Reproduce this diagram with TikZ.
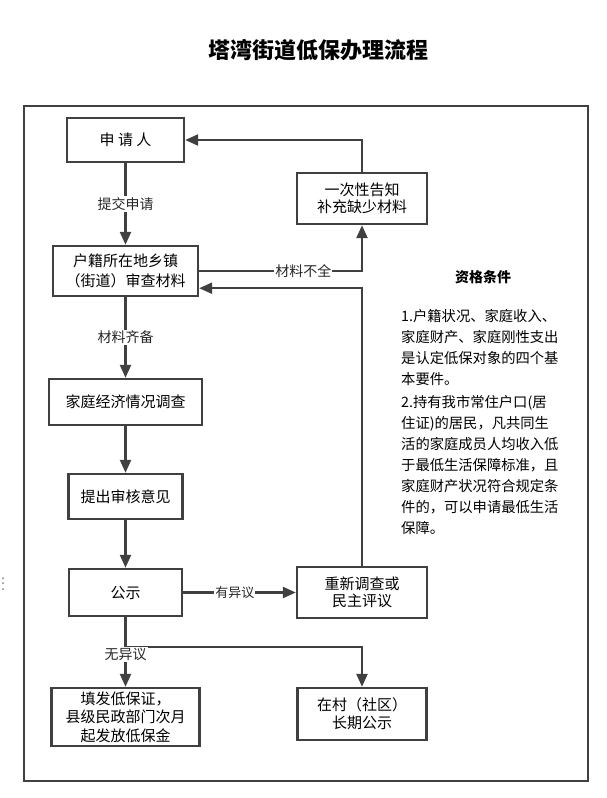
\documentclass[tikz,border=0pt]{standalone}
\usepackage{fontspec}
\setmainfont{Noto Sans CJK SC}
\usetikzlibrary{arrows.meta,positioning,calc}
\definecolor{linegray}{gray}{0.25}

\begin{document}
\begin{tikzpicture}[x=1pt,y=-1pt,
	flowbox/.style={draw=linegray,line width=2.4pt,align=center,inner sep=0pt,font=\fontsize{15}{17}\selectfont},
	flowarrow/.style={draw=linegray,line width=2.4pt,-{Triangle[length=13pt,width=11pt]}},
	flowlabel/.style={fill=white,inner sep=1pt,text=black!85,font=\fontsize{14}{16}\selectfont}]
	\useasboundingbox (0,0) rectangle (607,798);
	\draw[linegray,line width=2.4pt] (24,106) rectangle (588,781);
	\foreach \dy in {578,583,589}{
	\fill[gray] (3,\dy) circle (1pt);
	}

	\node[font=\fontsize{22}{26}\selectfont\bfseries] (title) at (318,50) {塔湾街道低保办理流程};

	\node[flowbox,minimum width=117pt,minimum height=44pt] (shenqing) at (125.5,140) {申 请 人};
	\node[flowbox,minimum width=130pt,minimum height=51pt] (gaozhi) at (362,198.5) {一次性告知\\补充缺少材料};
	\node[flowbox,minimum width=145pt,minimum height=50pt,font=\fontsize{15}{20}\selectfont] (huji) at (125.5,271) {户籍所在地乡镇\\（街道）审查材料};
	\node[flowbox,minimum width=153pt,minimum height=46pt] (diaocha) at (125.5,402) {家庭经济情况调查};
	\node[flowbox,minimum width=114pt,minimum height=45pt] (yijian) at (125.5,496.5) {提出审核意见};
	\node[flowbox,minimum width=113pt,minimum height=47pt] (gongshi) at (125.5,592.5) {公示};
	\node[flowbox,minimum width=130pt,minimum height=51pt] (chongxin) at (362,592.5) {重新调查或\\民主评议};
	\node[flowbox,minimum width=148pt,minimum height=58pt,font=\fontsize{15}{18.5}\selectfont] (tianfa) at (125.5,717) {填发低保证，\\县级民政部门次月\\起发放低保金};
	\node[flowbox,minimum width=129pt,minimum height=52pt,font=\fontsize{15}{18}\selectfont] (zaicun) at (362,714) {在村（社区）\\长期公示};

	\draw[flowarrow] (shenqing) -- node[flowlabel] (tijiao) {提交申请} (huji);
	\draw[flowarrow] (huji.east) -| node[flowlabel,pos=0.32] (buquan) {材料不全} (gaozhi.south);
	\draw[flowarrow] (gaozhi.north) |- (shenqing.east);
	\draw[flowarrow] (huji) -- node[flowlabel] (qibei) {材料齐备} (diaocha);
	\draw[flowarrow] (diaocha) -- (yijian);
	\draw[flowarrow] (yijian) -- (gongshi);
	\draw[flowarrow] (gongshi) -- node[flowlabel,pos=0.46,font=\fontsize{13}{15}\selectfont] (youyiyi) {有异议} (chongxin);
	\draw[flowarrow] (chongxin.north) |- ([yshift=9pt]huji.south east);
	\coordinate (fenzhi) at ($(gongshi.south)!0.43!(tianfa.north)$);
	\draw[flowarrow] (fenzhi) -| (zaicun.north);
	\draw[flowarrow] (gongshi) -- node[flowlabel,pos=0.54] (wuyiyi) {无异议} (tianfa);

	\node[font=\fontsize{14}{16}\selectfont\bfseries] (zige) at (483,277) {资格条件};
	\node[anchor=north west,align=left,inner sep=0pt,font=\fontsize{14.3}{21}\selectfont] (tiaojian) at (401,309) {1.户籍状况、家庭收入、\\家庭财产、家庭刚性支出\\是认定低保对象的四个基\\本要件。\\[2pt]2.持有我市常住户口(居\\住证)的居民，凡共同生\\活的家庭成员人均收入低\\于最低生活保障标准，且\\家庭财产状况符合规定条\\件的，可以申请最低生活\\保障。};
\end{tikzpicture}
\end{document}
